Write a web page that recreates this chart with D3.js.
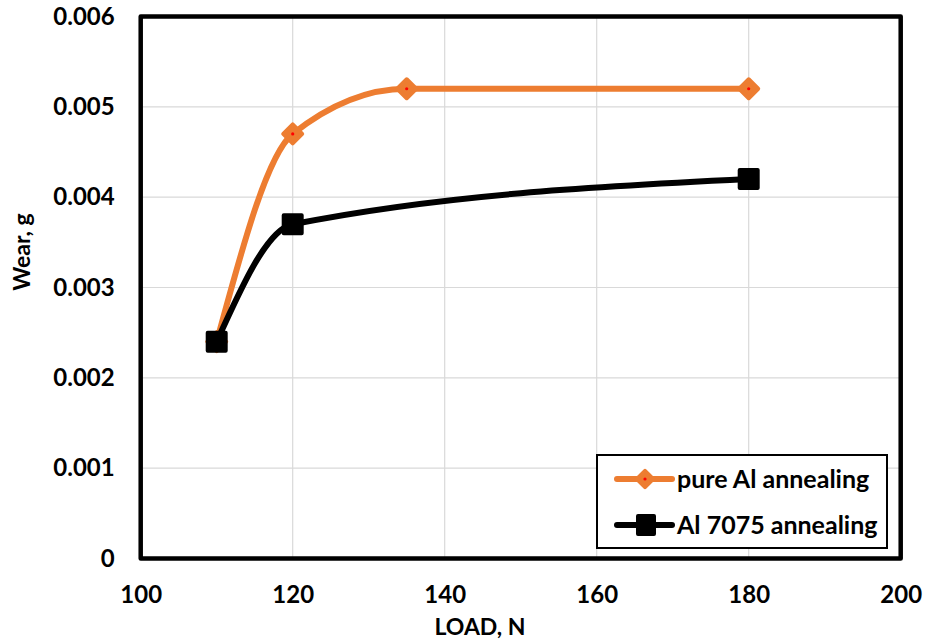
<!DOCTYPE html>
<html><head><meta charset="utf-8">
<script src="https://cdn.jsdelivr.net/npm/d3@7"></script>
<style>body{margin:0;background:#fff}svg{display:block}text{font-family:Lato,"Open Sans",sans-serif;font-weight:bold;fill:#000}</style>
</head><body>
<script>
const seriesNames = ["pure Al annealing", "Al 7075 annealing"];
const pureAlLoad = [110, 120, 135, 180];
const pureAlWear = [0.0024, 0.0047, 0.0052, 0.0052];
const al7075Load = [110, 120, 180];
const al7075Wear = [0.0024, 0.0037, 0.0042];
const xTicks = [100, 120, 140, 160, 180, 200];
const yTicks = [0, 0.001, 0.002, 0.003, 0.004, 0.005, 0.006];
const colors = ["#ED7D31", "#000000"];

const W = 925, H = 641;
const svg = d3.select("body").append("svg").attr("width", W).attr("height", H);
const x = d3.scaleLinear().domain([100, 200]).range([140.7, 900.7]);
const y = d3.scaleLinear().domain([0, 0.006]).range([558.5, 16.5]);

// gridlines
svg.append("g").selectAll("line").data(xTicks.slice(1, -1)).join("line")
  .attr("x1", d => x(d)).attr("x2", d => x(d)).attr("y1", y(0)).attr("y2", y(0.006))
  .attr("stroke", "#d9d9d9").attr("stroke-width", 1.2);
svg.append("g").selectAll("line").data(yTicks.slice(1, -1)).join("line")
  .attr("y1", d => y(d)).attr("y2", d => y(d)).attr("x1", x(100)).attr("x2", x(200))
  .attr("stroke", "#d9d9d9").attr("stroke-width", 1.2);

// axes
const xAxis = svg.append("g").attr("transform", `translate(0,${y(0)})`)
  .call(d3.axisBottom(x).tickValues(xTicks).tickSize(0).tickPadding(27).tickFormat(d3.format("d")));
xAxis.select(".domain").remove();
xAxis.selectAll("text").style("font-size", "24px").style("font-family", "Lato").style("font-weight", "bold");
const yAxis = svg.append("g").attr("transform", `translate(${x(100)},0)`)
  .call(d3.axisLeft(y).tickValues(yTicks).tickSize(0).tickPadding(26).tickFormat(d => d === 0 ? "0" : d3.format(".3f")(d)));
yAxis.select(".domain").remove();
yAxis.selectAll("text").style("font-size", "24px").style("font-family", "Lato").style("font-weight", "bold");

// plot border
svg.append("rect").attr("x", x(100)).attr("y", y(0.006)).attr("width", x(200) - x(100)).attr("height", y(0) - y(0.006))
  .attr("fill", "none").attr("stroke", "#000").attr("stroke-width", 4.5).attr("stroke-linejoin", "round");

const line = d3.line().x(d => x(d[0])).y(d => y(d[1])).curve(d3.curveMonotoneX);
const s1 = pureAlLoad.map((v, i) => [v, pureAlWear[i]]);
const s2 = al7075Load.map((v, i) => [v, al7075Wear[i]]);
const diamondPath = d3.symbol().type(d3.symbolSquare).size(180)();

svg.append("path").attr("d", line(s1)).attr("fill", "none").attr("stroke", colors[0]).attr("stroke-width", 6).attr("stroke-linecap", "round");
svg.append("g").selectAll("path").data(s1).join("path")
  .attr("d", diamondPath)
  .attr("transform", d => `translate(${x(d[0])},${y(d[1])}) rotate(45)`)
  .attr("fill", colors[0]).attr("stroke", colors[0]).attr("stroke-width", 4).attr("stroke-linejoin", "round");
svg.append("g").selectAll("circle").data(s1).join("circle")
  .attr("cx", d => x(d[0])).attr("cy", d => y(d[1])).attr("r", 1.6).attr("fill", "#ff0000");

svg.append("path").attr("d", line(s2)).attr("fill", "none").attr("stroke", colors[1]).attr("stroke-width", 6).attr("stroke-linecap", "round");
svg.append("g").selectAll("rect").data(s2).join("rect")
  .attr("x", d => x(d[0]) - 9).attr("y", d => y(d[1]) - 9).attr("width", 18).attr("height", 18)
  .attr("fill", "#000").attr("stroke", "#000").attr("stroke-width", 4).attr("stroke-linejoin", "round");

// axis titles
svg.append("text").attr("x", 480).attr("y", 635).attr("text-anchor", "middle").style("font-size", "23px").text("LOAD, N");
svg.append("text").attr("transform", "translate(30,252) rotate(-90)").attr("text-anchor", "middle").style("font-size", "23px").text("Wear, g");

// legend
const lg = svg.append("g");
lg.append("rect").attr("x", 597).attr("y", 455).attr("width", 290).attr("height", 93)
  .attr("fill", "#fff").attr("stroke", "#000").attr("stroke-width", 2);
const rows = [479, 525];
lg.append("line").attr("x1", 617).attr("x2", 672).attr("y1", rows[0]).attr("y2", rows[0]).attr("stroke", colors[0]).attr("stroke-width", 6).attr("stroke-linecap", "round");
lg.append("path").attr("d", d3.symbol().type(d3.symbolSquare).size(130)()).attr("transform", `translate(645,${rows[0]}) rotate(45)`)
  .attr("fill", colors[0]).attr("stroke", colors[0]).attr("stroke-width", 4).attr("stroke-linejoin", "round");
lg.append("circle").attr("cx", 645).attr("cy", rows[0]).attr("r", 1.6).attr("fill", "#ff0000");
lg.append("line").attr("x1", 617).attr("x2", 672).attr("y1", rows[1]).attr("y2", rows[1]).attr("stroke", colors[1]).attr("stroke-width", 6).attr("stroke-linecap", "round");
lg.append("rect").attr("x", 638).attr("y", rows[1] - 9).attr("width", 16).attr("height", 18)
  .attr("fill", "#000").attr("stroke", "#000").attr("stroke-width", 4).attr("stroke-linejoin", "round");
lg.selectAll("text.l").data(seriesNames).join("text").attr("class", "l")
  .attr("x", 677).attr("y", (d, i) => rows[i]).attr("dy", "0.35em").style("font-size", "25px").text(d => d);
</script>
</body></html>
